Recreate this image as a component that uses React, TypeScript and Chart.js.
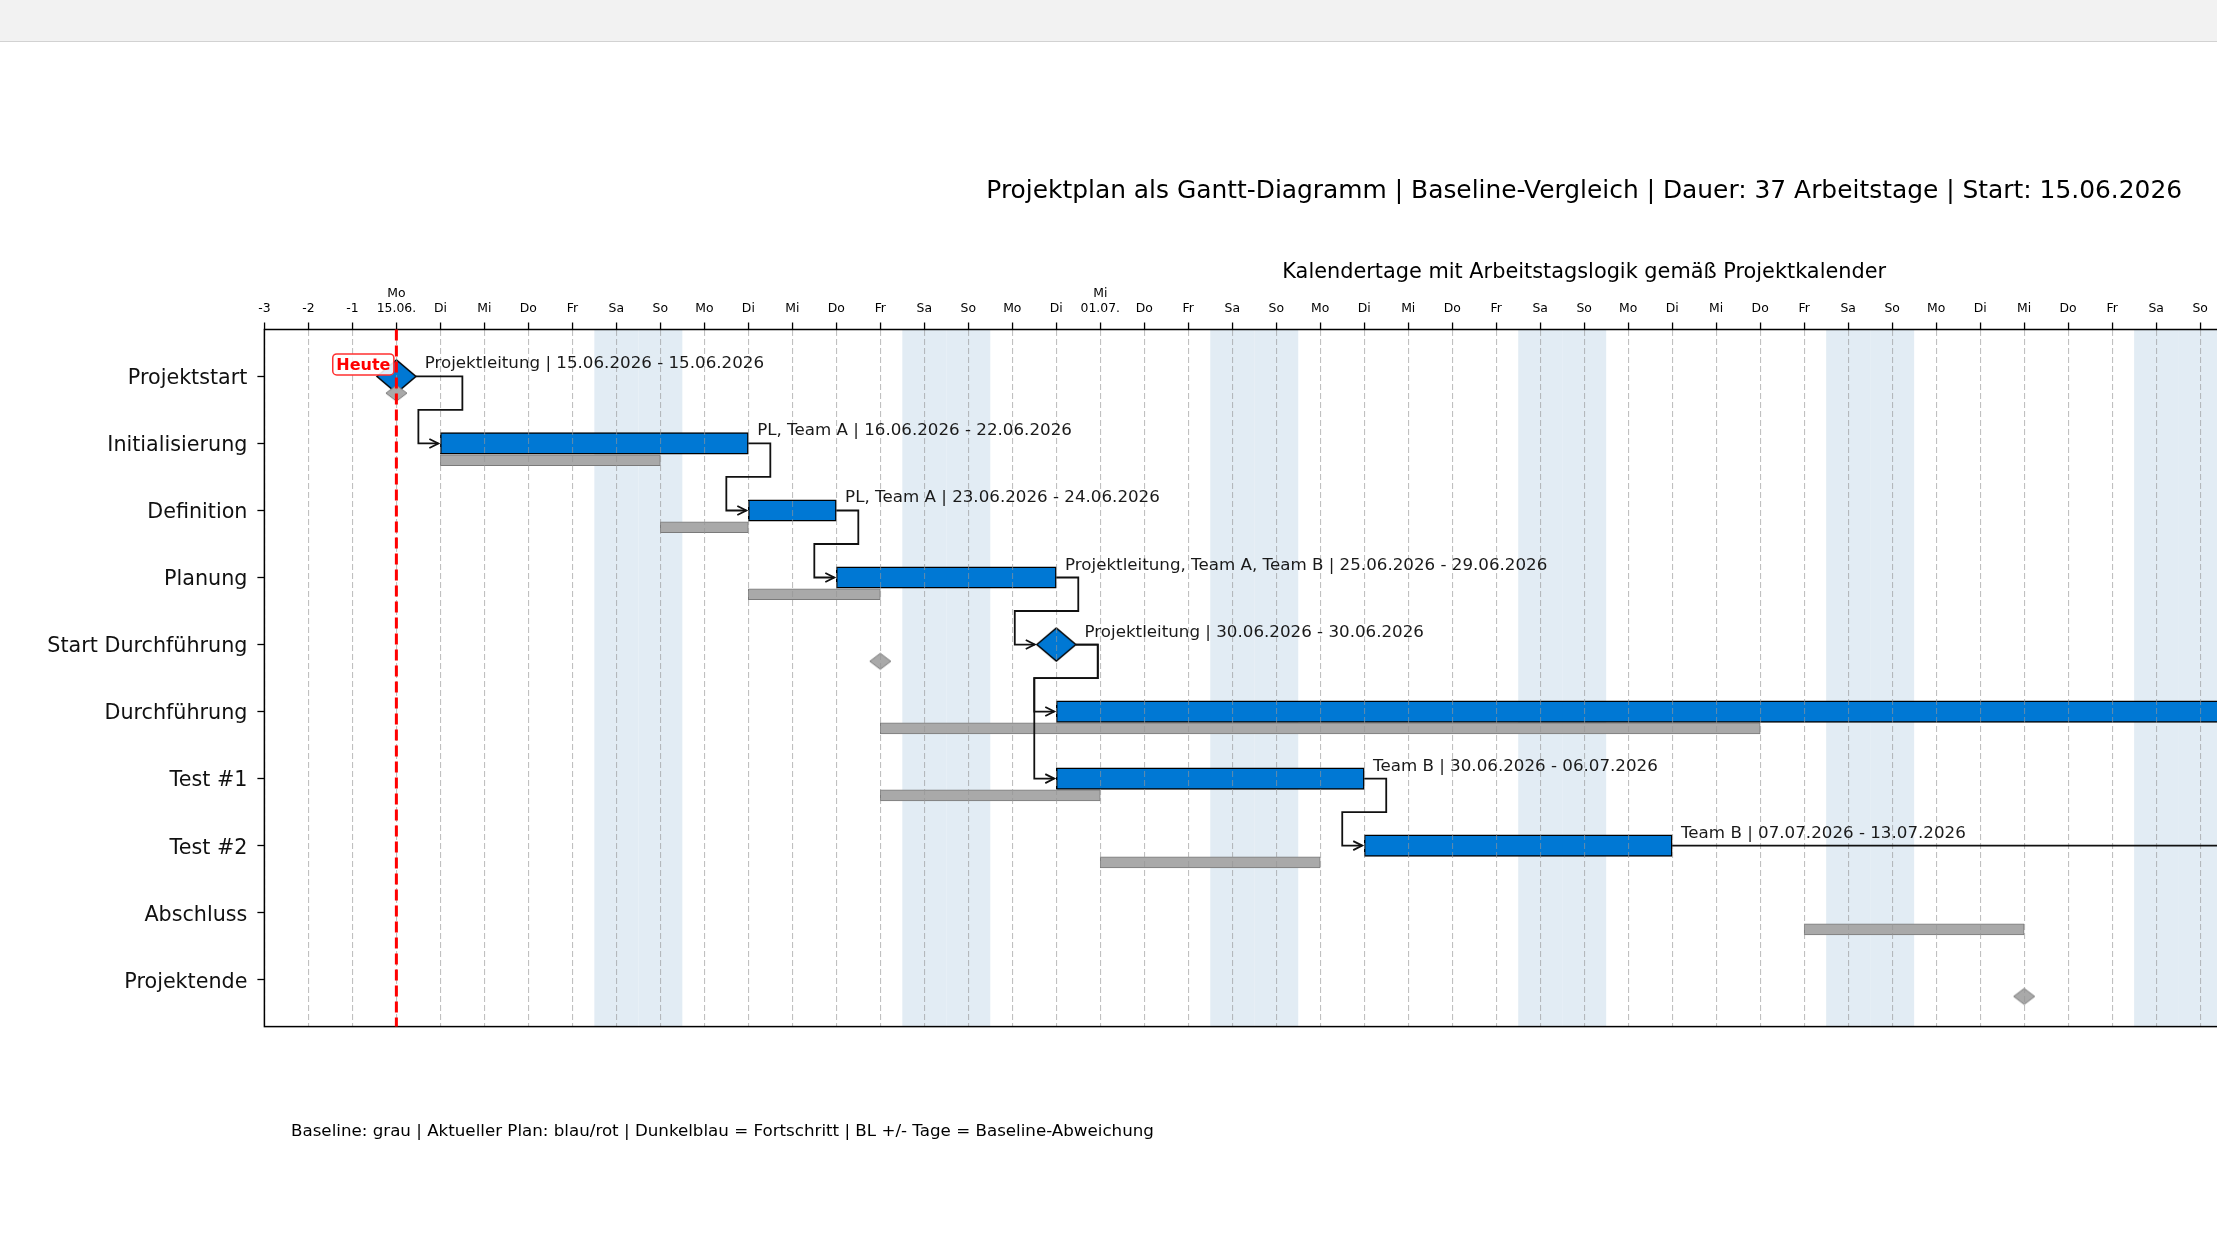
import React, { useEffect, useRef } from 'react';
import { Chart, registerables } from 'chart.js';

Chart.register(...registerables);

// Project calendar: day offsets are counted from the project start (Mo 15.06.2026)
const PROJECT_START_UTC = Date.UTC(2026, 5, 15);
const TODAY_OFFSET = 0;
const X_MIN = -3;
const X_MAX = 57;

const taskNames = [
  'Projektstart',
  'Initialisierung',
  'Definition',
  'Planung',
  'Start Durchführung',
  'Durchführung',
  'Test #1',
  'Test #2',
  'Abschluss',
  'Projektende',
];
const taskResources = [
  'Projektleitung',
  'PL, Team A',
  'PL, Team A',
  'Projektleitung, Team A, Team B',
  'Projektleitung',
  'Team A, Team B',
  'Team B',
  'Team B',
  'Projektleitung',
  'Projektleitung',
];
const milestoneFlags = [true, false, false, false, true, false, false, false, false, true];

// current plan (start inclusive, end exclusive, in calendar days)
const planStart = [0, 1, 8, 10, 15, 15, 15, 22, 43, 50];
const planEnd = [1, 8, 10, 15, 16, 43, 22, 29, 50, 51];

// baseline plan
const baselineStart = [0, 1, 6, 8, 11, 11, 11, 16, 32, 37];
const baselineEnd = [1, 6, 8, 11, 12, 31, 16, 21, 37, 38];

// finish-to-start links [predecessor, successor]
const dependencies: [number, number][] = [
  [0, 1], [1, 2], [2, 3], [3, 4], [4, 5], [4, 6], [6, 7], [5, 8], [7, 8], [8, 9],
];

const weekdayNames = ['Mo', 'Di', 'Mi', 'Do', 'Fr', 'Sa', 'So'];

const chartTitle =
  'Projektplan als Gantt-Diagramm | Baseline-Vergleich | Dauer: 37 Arbeitstage | Start: 15.06.2026';
const axisTitle = 'Kalendertage mit Arbeitstagslogik gemäß Projektkalender';
const footnote =
  'Baseline: grau | Aktueller Plan: blau/rot | Dunkelblau = Fortschritt | BL +/- Tage = Baseline-Abweichung';
const todayLabel = 'Heute';

const FONT = '"DejaVu Sans", "Liberation Sans", sans-serif';
const CANVAS_W = 3200;
const CANVAS_H = 1241;
const AREA = { left: 264.4, right: 2904, top: 329.5, bottom: 1026.6 };

const PLAN_COLOR = '#0078D4';
const BASE_COLOR = '#A9A9A9';
const BASE_EDGE = '#7A7A7A';
const WEEKEND_COLOR = 'rgb(226,236,244)';
const MS_HW = 19.5;
const MS_HH = 16.5;

function dateAt(offset: number): Date {
  return new Date(PROJECT_START_UTC + offset * 86400000);
}
function pad2(n: number): string {
  return n < 10 ? '0' + n : String(n);
}
function fmtDate(offset: number): string {
  const d = dateAt(offset);
  return `${pad2(d.getUTCDate())}.${pad2(d.getUTCMonth() + 1)}.${d.getUTCFullYear()}`;
}
function weekdayIndex(offset: number): number {
  return (dateAt(offset).getUTCDay() + 6) % 7;
}

function makeDiamond(hw: number, hh: number, fill: string, stroke: string, lw: number) {
  const c = document.createElement('canvas');
  const p = Math.ceil(lw) + 1;
  c.width = Math.ceil(2 * hw + 2 * p);
  c.height = Math.ceil(2 * hh + 2 * p);
  const g = c.getContext('2d')!;
  const cx = c.width / 2;
  const cy = c.height / 2;
  g.beginPath();
  g.moveTo(cx - hw, cy);
  g.lineTo(cx, cy - hh);
  g.lineTo(cx + hw, cy);
  g.lineTo(cx, cy + hh);
  g.closePath();
  g.fillStyle = fill;
  g.fill();
  g.lineWidth = lw;
  g.lineJoin = 'miter';
  g.strokeStyle = stroke;
  g.stroke();
  return c;
}

const ganttPlugin = {
  id: 'ganttDecor',
  beforeDatasetsDraw(chart: any) {
    const { ctx, chartArea } = chart;
    const xs = chart.scales.x;
    ctx.save();
    ctx.fillStyle = WEEKEND_COLOR;
    // weekends are shaded from the project start onwards
    for (let d = 0; d <= X_MAX; d++) {
      if (weekdayIndex(d) >= 5) {
        const a = Math.max(xs.getPixelForValue(d - 0.5), chartArea.left);
        const b = Math.min(xs.getPixelForValue(d + 0.5), chartArea.right);
        if (b > a) ctx.fillRect(a, chartArea.top, b - a, chartArea.bottom - chartArea.top);
      }
    }
    ctx.restore();
  },
  afterDraw(chart: any) {
    const { ctx, chartArea } = chart;
    const xs = chart.scales.x;
    const ys = chart.scales.y;
    const px = (v: number) => xs.getPixelForValue(v);
    const py = (v: number) => ys.getPixelForValue(v);
    const day = px(1) - px(0);
    const srcEnd = (i: number) => (milestoneFlags[i] ? px(planStart[i]) + MS_HW : px(planEnd[i]));
    const tgtStart = (i: number) => (milestoneFlags[i] ? px(planStart[i]) - MS_HW : px(planStart[i]));

    ctx.save();
    // dependency connectors
    ctx.strokeStyle = '#111';
    ctx.lineWidth = 1.8;
    ctx.lineJoin = 'miter';
    for (const [a, b] of dependencies) {
      const x0 = srcEnd(a);
      const y0 = py(a);
      const x1 = tgtStart(b);
      const y1 = py(b);
      let pts: number[][];
      if (x1 - 0.5 * day >= x0 + 0.5 * day) {
        const xm = x1 - 0.5 * day;
        pts = [[x0, y0], [xm, y0], [xm, y1], [x1 - 2, y1]];
      } else {
        const xe = Math.max(x0, x1) + 0.5 * day;
        const ym = py(a + 0.5);
        const xl = x1 - 0.5 * day;
        pts = [[x0, y0], [xe, y0], [xe, ym], [xl, ym], [xl, y1], [x1 - 2, y1]];
      }
      ctx.beginPath();
      ctx.moveTo(pts[0][0], pts[0][1]);
      for (let k = 1; k < pts.length; k++) ctx.lineTo(pts[k][0], pts[k][1]);
      ctx.stroke();
      const tx = x1 - 2;
      ctx.beginPath();
      ctx.moveTo(tx - 9, y1 - 4.5);
      ctx.lineTo(tx, y1);
      ctx.lineTo(tx - 9, y1 + 4.5);
      ctx.stroke();
    }

    // task labels
    ctx.fillStyle = '#1a1a1a';
    ctx.font = `16.7px ${FONT}`;
    ctx.textAlign = 'left';
    ctx.textBaseline = 'alphabetic';
    taskNames.forEach((_, i) => {
      const endOffset = milestoneFlags[i] ? planStart[i] : planEnd[i] - 1;
      const text = `${taskResources[i]} | ${fmtDate(planStart[i])} - ${fmtDate(endOffset)}`;
      ctx.fillText(text, srcEnd(i) + 0.2 * day, py(i) - 8);
    });

    // axes frame
    ctx.strokeStyle = '#000';
    ctx.lineWidth = 1.5;
    ctx.strokeRect(chartArea.left, chartArea.top, chartArea.right - chartArea.left, chartArea.bottom - chartArea.top);

    // today marker
    const tx = px(TODAY_OFFSET);
    ctx.strokeStyle = '#ff0000';
    ctx.lineWidth = 3;
    ctx.setLineDash([11, 5]);
    ctx.beginPath();
    ctx.moveTo(tx, chartArea.top);
    ctx.lineTo(tx, chartArea.bottom);
    ctx.stroke();
    ctx.setLineDash([]);

    ctx.font = `bold 16px ${FONT}`;
    const tw = ctx.measureText(todayLabel).width;
    const right = tx - 6;
    const cy = py(0) - 12;
    const bx = right - tw - 3.5;
    const bw = tw + 7;
    const bh = 21;
    ctx.beginPath();
    ctx.roundRect(bx, cy - bh / 2, bw, bh, 4);
    ctx.fillStyle = 'rgba(255,255,255,0.88)';
    ctx.fill();
    ctx.strokeStyle = '#ff3030';
    ctx.lineWidth = 1.5;
    ctx.stroke();
    ctx.fillStyle = '#ff0000';
    ctx.textAlign = 'right';
    ctx.textBaseline = 'middle';
    ctx.fillText(todayLabel, right, cy + 1);

    // titles and note
    const cx = (chartArea.left + chartArea.right) / 2;
    ctx.fillStyle = '#000';
    ctx.textAlign = 'center';
    ctx.textBaseline = 'middle';
    ctx.font = `24.9px ${FONT}`;
    ctx.fillText(chartTitle, cx, 192);
    ctx.font = `20.85px ${FONT}`;
    ctx.fillText(axisTitle, cx, 272.5);
    ctx.font = `16.7px ${FONT}`;
    ctx.textAlign = 'left';
    ctx.fillText(footnote, 291, 1131.5);
    ctx.restore();
  },
};

export default function App() {
  const canvasRef = useRef<HTMLCanvasElement | null>(null);

  useEffect(() => {
    const canvas = canvasRef.current;
    if (!canvas) return;

    const planDiamond = makeDiamond(MS_HW, MS_HH, PLAN_COLOR, '#000', 1.5);
    const baseDiamond = makeDiamond(10.5, 8, BASE_COLOR, BASE_EDGE, 1);

    const idx = taskNames.map((_, i) => i);
    const planBars = idx.filter((i) => !milestoneFlags[i]).map((i) => ({ x: [planStart[i], planEnd[i]], y: i }));
    const baseBars = idx
      .filter((i) => !milestoneFlags[i])
      .map((i) => ({ x: [baselineStart[i], baselineEnd[i]], y: i + 0.25 }));
    const planMilestones = idx.filter((i) => milestoneFlags[i]).map((i) => ({ x: planStart[i], y: i }));
    const baseMilestones = idx.filter((i) => milestoneFlags[i]).map((i) => ({ x: baselineStart[i], y: i + 0.25 }));

    const xTicks: number[] = [];
    for (let d = X_MIN; d <= X_MAX; d++) xTicks.push(d);

    const chart = new Chart(canvas, {
      type: 'scatter',
      data: {
        datasets: [
          {
            type: 'bar',
            indexAxis: 'y',
            grouped: false,
            data: baseBars as any,
            backgroundColor: BASE_COLOR,
            borderColor: BASE_EDGE,
            borderWidth: 1,
            borderSkipped: false,
            barThickness: 11,
            order: 3,
          } as any,
          {
            type: 'bar',
            indexAxis: 'y',
            grouped: false,
            data: planBars as any,
            backgroundColor: PLAN_COLOR,
            borderColor: '#000',
            borderWidth: 1.5,
            borderSkipped: false,
            barThickness: 21.5,
            order: 2,
          } as any,
          {
            type: 'scatter',
            data: planMilestones,
            pointStyle: planDiamond as any,
            pointRadius: 12,
            order: 1,
          },
          {
            type: 'scatter',
            data: baseMilestones,
            pointStyle: baseDiamond as any,
            pointRadius: 8,
            order: 0,
          },
        ],
      },
      options: {
        responsive: false,
        animation: false,
        events: [],
        layout: {
          padding: { left: 0, top: 0, right: CANVAS_W - AREA.right, bottom: CANVAS_H - AREA.bottom },
        },
        plugins: {
          legend: { display: false },
          tooltip: { enabled: false },
          title: { display: false },
        },
        scales: {
          x: {
            type: 'linear',
            position: 'top',
            min: X_MIN,
            max: X_MAX,
            offset: false,
            afterBuildTicks: (s: any) => {
              s.ticks = xTicks.map((v) => ({ value: v }));
            },
            afterFit: (s: any) => {
              s.height = AREA.top;
            },
            grid: {
              display: true,
              drawOnChartArea: true,
              drawTicks: true,
              tickLength: 7,
              tickColor: '#000',
              tickWidth: 1.3,
              color: 'rgba(150,150,150,0.6)',
              lineWidth: 1.1,
              offset: false,
              z: 1,
            },
            border: { display: false, dash: [6, 3] },
            ticks: {
              autoSkip: false,
              maxRotation: 0,
              minRotation: 0,
              padding: 7,
              color: '#000',
              font: { family: FONT, size: 12.4, lineHeight: 1.15 },
              callback: (value: any) => {
                const v = Number(value);
                if (v < 0) return String(v);
                const d = dateAt(v);
                const wd = weekdayNames[weekdayIndex(v)];
                if (v === 0 || d.getUTCDate() === 1) {
                  return [wd, `${pad2(d.getUTCDate())}.${pad2(d.getUTCMonth() + 1)}.`];
                }
                return wd;
              },
            },
          } as any,
          y: {
            type: 'linear',
            reverse: true,
            min: -0.7,
            max: 9.7,
            offset: false,
            afterBuildTicks: (s: any) => {
              s.ticks = taskNames.map((_, i) => ({ value: i }));
            },
            afterFit: (s: any) => {
              s.width = AREA.left;
            },
            grid: {
              display: true,
              drawOnChartArea: false,
              drawTicks: true,
              tickLength: 7,
              tickColor: '#000',
              tickWidth: 1.3,
              offset: false,
            },
            border: { display: false },
            ticks: {
              autoSkip: false,
              padding: 10,
              labelOffset: 2.5,
              color: '#111',
              font: { family: FONT, size: 20.7 },
              callback: (value: any) => taskNames[Number(value)] ?? '',
            },
          } as any,
        },
      },
      plugins: [ganttPlugin],
    });

    return () => {
      chart.destroy();
    };
  }, []);

  return (
    <div
      style={{
        position: 'fixed',
        left: 0,
        top: 0,
        width: '100vw',
        height: '100vh',
        overflow: 'hidden',
        background: '#ffffff',
      }}
    >
      <canvas
        ref={canvasRef}
        width={CANVAS_W}
        height={CANVAS_H}
        style={{ position: 'absolute', left: 0, top: 0, width: CANVAS_W, height: CANVAS_H }}
      />
      <div
        style={{
          position: 'absolute',
          left: 0,
          top: 0,
          width: '100%',
          height: 41,
          background: '#f2f2f2',
          borderBottom: '1px solid #d2d2d2',
        }}
      />
    </div>
  );
}
